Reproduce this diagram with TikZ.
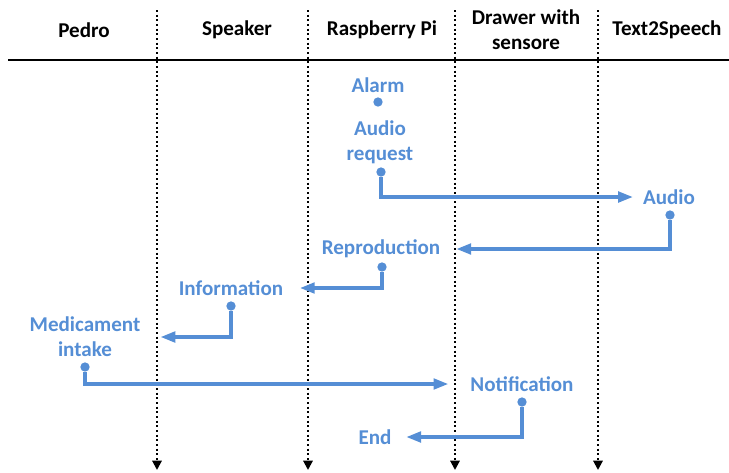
\documentclass[tikz,border=0pt]{standalone}
\usepackage{fontspec}
\setmainfont{Carlito}
\usetikzlibrary{arrows.meta}
\definecolor{flowblue}{HTML}{558ED5}

\tikzset{
  head/.style={font=\bfseries\fontsize{15.8}{18.5}\selectfont, align=center},
  lbl/.style={text=flowblue, font=\bfseries\fontsize{15.8}{18.5}\selectfont, align=center, inner sep=1pt},
  bullet/.style={circle, fill=flowblue, inner sep=0pt, minimum size=7pt},
  flow/.style={draw=flowblue, line width=2.3pt, -{Triangle[length=11pt,width=8pt]}, shorten >=#1},
  flow/.default=8pt,
  life/.style={dotted, line width=1.5pt, -{Triangle[length=7pt,width=7pt]}}
}

\begin{document}
\begin{tikzpicture}[x=0.75pt, y=-0.75pt]
      \useasboundingbox (0,0) rectangle (729,472);

      % headers
      \node[head] (pedro)   at (84,30)  {Pedro};
      \node[head] (speaker) at (237,30) {Speaker};
      \node[head] (raspi)   at (382,30) {Raspberry Pi};
      \node[head] (drawer)  at (526,30) {Drawer with\\sensore};
      \node[head] (tts)     at (667,30) {Text2Speech};

      \coordinate (hl) at (8,60);
      \coordinate (hr) at (729,60);
      \draw[line width=2pt] (hl) -- (hr);

      % lifelines
      \foreach \x/\n in {157/a, 308/b, 455/c, 598/d} {
        \coordinate (\n top) at (\x,10);
        \coordinate (\n bot) at (\x,470);
        \draw[life] (\n top) -- (\n bot);
      }

      % steps
      \node[lbl] (alarm)   at (378,85)  {Alarm};
      \node[lbl] (request) at (380,142) {Audio\\request};
      \node[lbl] (audio)   at (669,197) {Audio};
      \node[lbl] (repro)   at (381,249) {Reproduction};
      \node[lbl] (info)    at (231,288) {Information};
      \node[lbl] (intake)  at (85,337)  {Medicament\\intake};
      \node[lbl] (notif)   at (522,384) {Notification};
      \node[lbl] (endn)    at (375,437) {End};

      \node[bullet] (alarmdot)   at (378,102) {};
      \node[bullet] (requestdot) at (381,172) {};
      \node[bullet] (audiodot)   at (670,215) {};
      \node[bullet] (reprodot)   at (382,267) {};
      \node[bullet] (infodot)    at (231,306) {};
      \node[bullet] (intakedot)  at (85,367)  {};
      \node[bullet] (notifdot)   at (522,402) {};

      \draw[flow=6.5pt] (requestdot) |- (audio);
      \draw[flow=11pt]  (audiodot)   |- (repro);
      \draw[flow=11.5pt] (reprodot)  |- (info);
      \draw[flow=14pt]  (infodot)    |- (intake);
      \draw[flow=15.5pt] (intakedot) |- (notif);
      \draw[flow=10pt]  (notifdot)   |- (endn);

    \end{tikzpicture}
\end{document}
